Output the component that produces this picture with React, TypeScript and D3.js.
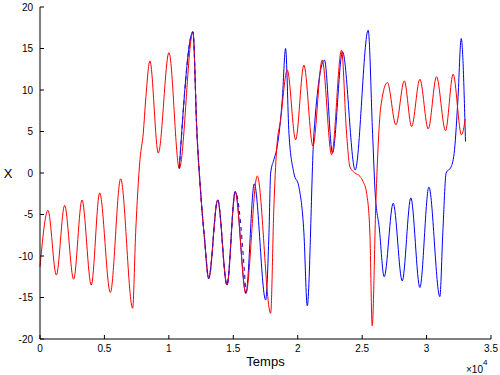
import React from 'react';
import * as d3 from 'd3';

const WIDTH = 500;
const HEIGHT = 375;
const margin = { l: 40, r: 9, t: 7, b: 36 };

// temps (échantillons) / X
const redT = [
  0, 620, 1270, 1910, 2610, 3260, 3980, 4630, 5460, 6260, 7190, 7424, 7758, 8014, 8200, 8530,
  9180, 10010, 10810, 11870, 12180, 12436, 12777, 13090, 13790, 14510, 15150, 15980, 16860,
  17900, 18150, 18360, 18670, 19190, 19840, 20480, 21180, 21900, 22630, 23400, 23790, 24050,
  24440, 24830, 25080, 25350, 25600, 25780, 26070, 26450, 26960, 27620, 28270, 28840, 29480,
  30130, 30770, 31470, 32060, 32710, 33000,
];
const redX = [
  -11.3, -4.5, -12.3, -3.9, -12.8, -3.25, -13.5, -2.4, -14.4, -0.7, -16.3, -7.2, 1.6, 4.8, 8.8,
  13.5, 2.4, 14.5, 0.55, 17.0, 4.8, -1.65, -8.1, -12.7, -3.25, -13.5, -2.25, -14.5, -0.36, -16.9,
  -4.1, 2.8, 6.4, 12.4, 4.0, 13.0, 3.25, 13.6, 2.2, 14.8, 4.8, 0.76, 0, -0.4, -1.05, -2.45, -7.2,
  -18.4, -3.25, 8.0, 10.9, 5.8, 11.1, 5.6, 11.3, 5.3, 11.6, 5.1, 11.9, 4.6, 6.5,
];

const blueT = [
  10810, 11870, 12180, 12436, 12777, 13090, 13790, 14510, 15150, 15980, 16630, 17510, 17770,
  17900, 18150, 18410, 18800, 19060, 19320, 19700, 20090, 20480, 20740, 21260, 22080, 22700,
  23480, 24460, 25470, 25810, 26010, 26320, 26710, 27410, 28110, 28780, 29480, 30180, 31030,
  31260, 31520, 31910, 32170, 32430, 32690, 33020,
];
const blueX = [
  0.55, 17.0, 4.8, -1.65, -8.1, -12.7, -3.25, -13.5, -2.25, -14.5, -1.3, -15.3, -7.2, 0, 1.6,
  3.2, 8.8, 15.0, 4.8, 0, -1.65, -7.2, -16.0, 4.8, 13.6, 2.4, 14.6, 0.36, 17.2, 4.8, -2.4, -6.5,
  -12.5, -3.65, -13.0, -3.0, -13.8, -1.7, -14.9, -7.2, 0, 0.76, 2.8, 8.8, 16.2, 3.8,
];

const xTicks = [0, 5000, 10000, 15000, 20000, 25000, 30000, 35000];
const xTickLabels = ['0', '0.5', '1', '1.5', '2', '2.5', '3', '3.5'];
const yTicks = [-20, -15, -10, -5, 0, 5, 10, 15, 20];

const font = '"Liberation Sans", Arial, sans-serif';

const App = () => {
  const w = WIDTH - margin.l - margin.r;
  const h = HEIGHT - margin.t - margin.b;

  const xScale = d3.scaleLinear().domain([0, 35000]).range([0, w]);
  const yScale = d3.scaleLinear().domain([-20, 20]).range([h, 0]);

  const line = d3
    .line<number>()
    .x((d) => xScale(d))
    .curve(d3.curveMonotoneX);

  const redPath = line.y((_, i) => yScale(redX[i]))(redT) as string;
  const bluePath = line.y((_, i) => yScale(blueX[i]))(blueT) as string;
  // partie commune (avant la divergence)
  const shared = blueT.filter((t) => t <= 15980);
  const sharedPath = line.y((_, i) => yScale(blueX[i]))(shared) as string;

  return (
    <svg
      width={WIDTH}
      height={HEIGHT}
      style={{ position: 'absolute', left: 0, top: 0, background: '#fff' }}
      fontFamily={font}
    >
      <g transform={`translate(${margin.l}, ${margin.t})`}>
        <path d={bluePath} stroke="#0000ff" fill="none" strokeWidth={1} />
        <path d={redPath} stroke="#ff0000" fill="none" strokeWidth={1} />
        <path
          d={sharedPath}
          stroke="#3a10c8"
          fill="none"
          strokeWidth={1.2}
          strokeDasharray="4 4"
        />

        {/* axes */}
        <line x1={0} x2={w} y1={h} y2={h} stroke="#000" />
        <line x1={0} x2={0} y1={0} y2={h} stroke="#000" />
        {xTicks.map((t, i) => (
          <g key={`x-${t}`} transform={`translate(${xScale(t)}, ${h})`}>
            <line y1={0} y2={-4} stroke="#000" />
            <text y={13} textAnchor="middle" fontSize={10}>
              {xTickLabels[i]}
            </text>
          </g>
        ))}
        {yTicks.map((t) => (
          <g key={`y-${t}`} transform={`translate(0, ${yScale(t)})`}>
            <line x1={0} x2={4} stroke="#000" />
            <text x={-7} dy="0.35em" textAnchor="end" fontSize={10}>
              {t}
            </text>
          </g>
        ))}
        <text x={w / 2} y={h + 27} textAnchor="middle" fontSize={13}>
          Temps
        </text>
        <text x={-32} y={h / 2} dy="0.35em" textAnchor="middle" fontSize={13}>
          X
        </text>
        <text x={w - 25} y={h + 34} fontSize={10}>
          ×10
          <tspan dy={-8} fontSize={8}>
            4
          </tspan>
        </text>
      </g>
    </svg>
  );
};

export default App;
